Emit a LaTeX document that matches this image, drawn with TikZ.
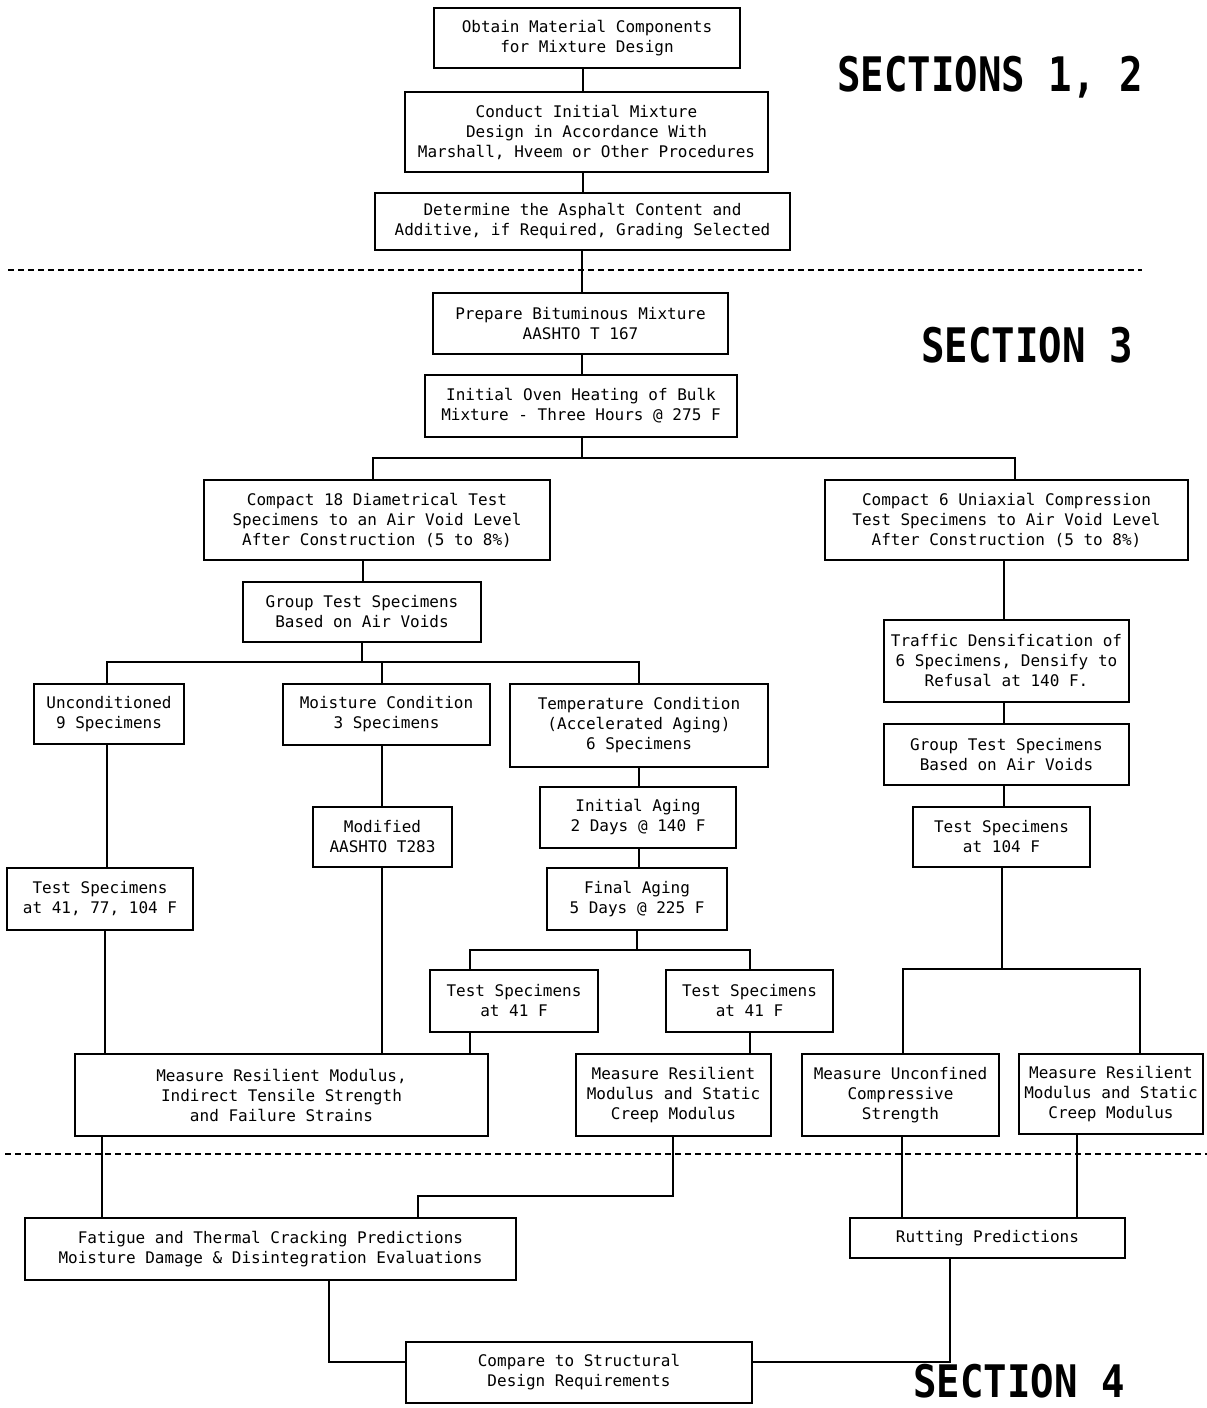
\documentclass[tikz,border=0pt]{standalone}
\usepackage{fontspec}
\newfontfamily\boxfont{DejaVu Sans Mono}
\begin{document}
\begin{tikzpicture}[x=1pt,y=-1pt,
  box/.style={draw,line width=1.6pt,inner sep=0pt,align=center,
    font=\boxfont\fontsize{16}{20}\selectfont},
  conn/.style={line width=1.3pt},
  sep/.style={line width=1.2pt,dash pattern=on 6pt off 4pt},
  sec/.style={inner sep=0pt,font=\boxfont\bfseries\fontsize{39}{40}\selectfont}]
\useasboundingbox (0,0) rectangle (1207,1408);
% boxes
\node[box,minimum width=306pt,minimum height=60pt] (ob) at (587,38) {Obtain Material Components\\for Mixture Design};
\node[box,minimum width=363pt,minimum height=80pt] (co) at (586.5,132) {Conduct Initial Mixture\\Design in Accordance With\\Marshall, Hveem or Other Procedures};
\node[box,minimum width=415pt,minimum height=57pt] (de) at (582.5,221.5) {Determine the Asphalt Content and\\Additive, if Required, Grading Selected};
\node[box,minimum width=295pt,minimum height=61pt] (pr) at (580.5,323.5) {Prepare Bituminous Mixture\\AASHTO T 167};
\node[box,minimum width=312pt,minimum height=62pt] (ov) at (581,406) {Initial Oven Heating of Bulk\\Mixture - Three Hours @ 275 F};
\node[box,minimum width=346pt,minimum height=80pt] (c18) at (377,520) {Compact 18 Diametrical Test\\Specimens to an Air Void Level\\After Construction (5 to 8\%)};
\node[box,minimum width=363pt,minimum height=80pt] (c6) at (1006.5,520) {Compact 6 Uniaxial Compression\\Test Specimens to Air Void Level\\After Construction (5 to 8\%)};
\node[box,minimum width=238pt,minimum height=60pt] (gl) at (362,612) {Group Test Specimens\\Based on Air Voids};
\node[box,minimum width=150pt,minimum height=60pt] (un) at (109,714) {Unconditioned\\9 Specimens};
\node[box,minimum width=207pt,minimum height=61pt] (mo) at (386.5,714.5) {Moisture Condition\\3 Specimens};
\node[box,minimum width=258pt,minimum height=83pt] (te) at (639,725.5) {Temperature Condition\\(Accelerated Aging)\\6 Specimens};
\node[box,minimum width=139pt,minimum height=60pt] (md) at (382.5,837) {Modified\\AASHTO T283};
\node[box,minimum width=186pt,minimum height=62pt] (t1) at (100,899) {Test Specimens\\at 41, 77, 104 F};
\node[box,minimum width=196pt,minimum height=61pt] (ia) at (638,817.5) {Initial Aging\\2 Days @ 140 F};
\node[box,minimum width=180pt,minimum height=62pt] (fa) at (637,899) {Final Aging\\5 Days @ 225 F};
\node[box,minimum width=168pt,minimum height=62pt] (tl) at (514,1001) {Test Specimens\\at 41 F};
\node[box,minimum width=167pt,minimum height=62pt] (tr) at (749.5,1001) {Test Specimens\\at 41 F};
\node[box,minimum width=413pt,minimum height=82pt] (mb) at (281.5,1095) {Measure Resilient Modulus,\\Indirect Tensile Strength\\and Failure Strains};
\node[box,minimum width=195pt,minimum height=82pt] (mm) at (673.5,1095) {Measure Resilient\\Modulus and Static\\Creep Modulus};
\node[box,minimum width=245pt,minimum height=82pt] (tf) at (1006.5,661) {Traffic Densification of\\6 Specimens, Densify to\\Refusal at 140 F.};
\node[box,minimum width=245pt,minimum height=61pt] (gr) at (1006.5,754.5) {Group Test Specimens\\Based on Air Voids};
\node[box,minimum width=177pt,minimum height=60pt] (tq) at (1001.5,837) {Test Specimens\\at 104 F};
\node[box,minimum width=197pt,minimum height=82pt] (mu) at (900.5,1095) {Measure Unconfined\\Compressive\\Strength};
\node[box,minimum width=184pt,minimum height=80pt] (mr) at (1111,1094) {Measure Resilient\\Modulus and Static\\Creep Modulus};
\node[box,minimum width=491pt,minimum height=62pt] (fp) at (270.5,1249) {Fatigue and Thermal Cracking Predictions\\Moisture Damage \& Disintegration Evaluations};
\node[box,minimum width=275pt,minimum height=40pt] (rp) at (987.5,1238) {Rutting Predictions};
\node[box,minimum width=346pt,minimum height=61pt] (cp) at (579,1372.5) {Compare to Structural\\Design Requirements};
% section labels
\node[sec] (s12) at (990,77) {\scalebox{1}[1.22]{SECTIONS 1, 2}};
\node[sec] (s3) at (1027,345) {\scalebox{1}[1.22]{SECTION 3}};
\node[sec] (s4) at (1019,1381) {\scalebox{1}[1.15]{SECTION 4}};
% separators
\coordinate (d1a) at (8,270); \coordinate (d1b) at (1142,270);
\coordinate (d2a) at (5,1154); \coordinate (d2b) at (1207,1154);
\draw[sep] (d1a) -- (d1b);
\draw[sep] (d2a) -- (d2b);
% connectors
\draw[conn] (ob.south -| 583,0) -- (co.north -| 583,0);
\draw[conn] (co.south -| 583,0) -- (de.north -| 583,0);
\draw[conn] (de.south -| 582,0) -- (pr.north -| 582,0);
\draw[conn] (pr.south -| 582,0) -- (ov.north -| 582,0);
\draw[conn] (ov.south -| 582,0) -- (582,458);
\draw[conn] (c18.north -| 373,0) -- (373,458) -- (1015,458) -- (c6.north -| 1015,0);
\draw[conn] (c18.south -| 363,0) -- (gl.north -| 363,0);
\draw[conn] (gl.south -| 362,0) -- (362,662);
\draw[conn] (un.north -| 107,0) -- (107,662) -- (639,662) -- (te.north -| 639,0);
\draw[conn] (mo.north -| 382,0) -- (382,662);
\draw[conn] (un.south -| 107,0) -- (t1.north -| 107,0);
\draw[conn] (t1.south -| 105,0) -- (mb.north -| 105,0);
\draw[conn] (mo.south -| 382,0) -- (md.north -| 382,0);
\draw[conn] (md.south -| 382,0) -- (mb.north -| 382,0);
\draw[conn] (te.south -| 639,0) -- (ia.north -| 639,0);
\draw[conn] (ia.south -| 639,0) -- (fa.north -| 639,0);
\draw[conn] (fa.south -| 637,0) -- (637,950);
\draw[conn] (tl.north -| 470,0) -- (470,950) -- (750,950) -- (tr.north -| 750,0);
\draw[conn] (tl.south -| 470,0) -- (mb.north -| 470,0);
\draw[conn] (tr.south -| 750,0) -- (mm.north -| 750,0);
\draw[conn] (c6.south -| 1004,0) -- (tf.north -| 1004,0);
\draw[conn] (tf.south -| 1004,0) -- (gr.north -| 1004,0);
\draw[conn] (gr.south -| 1004,0) -- (tq.north -| 1004,0);
\draw[conn] (tq.south -| 1002,0) -- (1002,969);
\draw[conn] (mu.north -| 903,0) -- (903,969) -- (1140,969) -- (mr.north -| 1140,0);
\draw[conn] (mm.south -| 673,0) -- (673,1196) -- (418,1196) -- (fp.north -| 418,0);
\draw[conn] (mb.south -| 102,0) -- (fp.north -| 102,0);
\draw[conn] (mu.south -| 902,0) -- (rp.north -| 902,0);
\draw[conn] (mr.south -| 1077,0) -- (rp.north -| 1077,0);
\draw[conn] (fp.south -| 329,0) -- (329,1362) -- (cp.west |- 0,1362);
\draw[conn] (rp.south -| 950,0) -- (950,1362) -- (cp.east |- 0,1362);
\end{tikzpicture}
\end{document}
